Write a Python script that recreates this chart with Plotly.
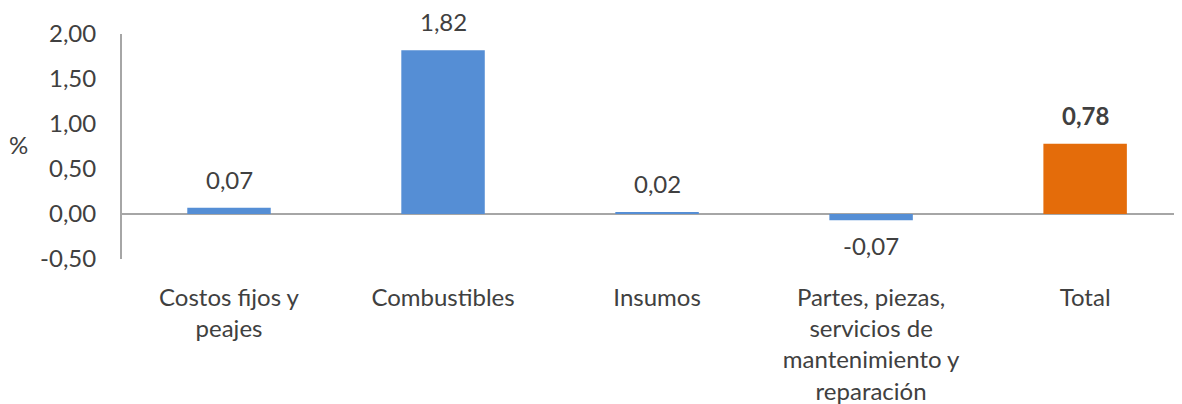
import plotly.graph_objects as go

categories = ["Costos fijos y<br>peajes", "Combustibles", "Insumos",
              "Partes, piezas,<br>servicios de<br>mantenimiento y<br>reparación", "Total"]
values = [0.07, 1.82, 0.02, -0.07, 0.78]
colors = ["#558ED5", "#558ED5", "#558ED5", "#558ED5", "#E46C0A"]
labels = [f"{v:.2f}".replace(".", ",") for v in values]
labels[-1] = "<b>" + labels[-1] + "</b>"
tick_vals = [-0.5, 0, 0.5, 1.0, 1.5, 2.0]
tick_text = [f"{t:.2f}".replace(".", ",") for t in tick_vals]

FONT = "Lato"
TXT = "#404040"
FS = 24

fig = go.Figure(go.Bar(
    x=list(range(len(categories))), y=values,
    marker=dict(color=colors, line=dict(width=0)),
    width=0.39,
))

annotations = []
for i, (v, t) in enumerate(zip(values, labels)):
    annotations.append(dict(
        x=i, y=v, xref="x", yref="y", text=t, showarrow=False,
        xanchor="center", yanchor="bottom" if v >= 0 else "top",
        yshift=12 if v >= 0 else -9,
        font=dict(family=FONT, size=FS, color=TXT),
    ))
annotations.append(dict(text="%", xref="paper", yref="paper", x=-0.097, y=0.507,
                        xanchor="center", yanchor="middle", showarrow=False,
                        font=dict(family=FONT, size=FS, color=TXT)))

fig.update_layout(
    width=1182, height=404,
    margin=dict(l=114, r=0, t=26, b=153),
    plot_bgcolor="white", paper_bgcolor="white",
    showlegend=False,
    font=dict(family=FONT, size=FS, color=TXT),
    xaxis=dict(
        range=[-0.5, 4.49],
        tickmode="array", tickvals=list(range(len(categories))), ticktext=categories,
        showgrid=False, showline=False, zeroline=False, ticks="",
        tickfont=dict(family=FONT, size=FS, color=TXT),
        ticklabelstandoff=22,
    ),
    yaxis=dict(
        range=[-0.5, 2.0],
        tickmode="array", tickvals=tick_vals, ticktext=tick_text,
        showgrid=False, showline=True, linecolor="#A6A6A6", linewidth=2,
        zeroline=True, zerolinecolor="#A6A6A6", zerolinewidth=2,
        ticks="", tickfont=dict(family=FONT, size=FS, color=TXT),
        ticklabelstandoff=19,
    ),
    annotations=annotations,
)

fig.write_html("out.html")
